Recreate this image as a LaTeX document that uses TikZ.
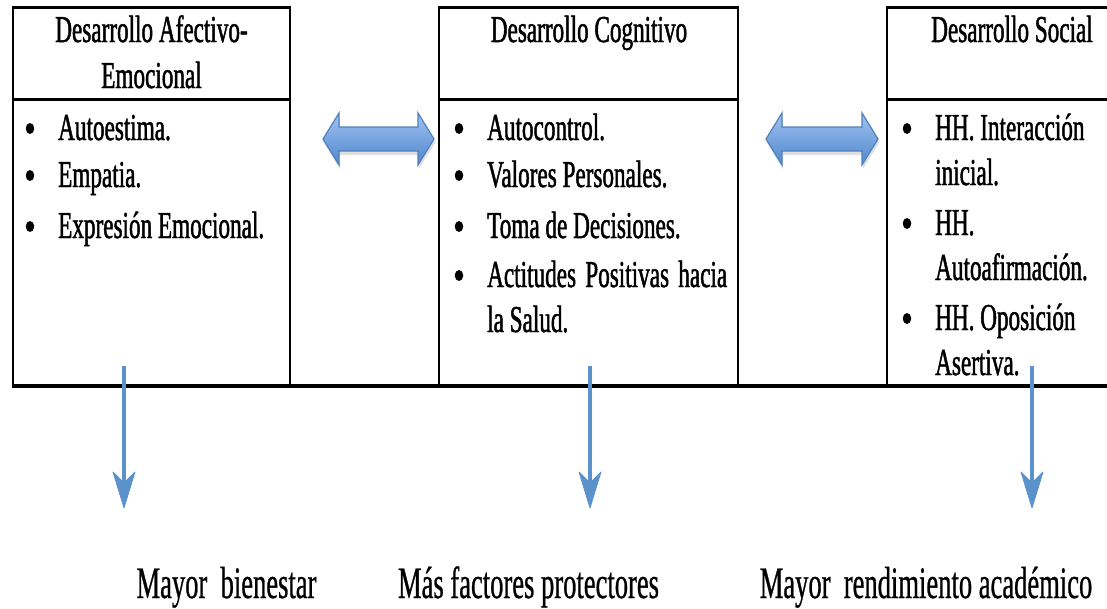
\documentclass[tikz,border=0pt]{standalone}
\usepackage{fontspec}
\setmainfont{Liberation Serif}
\newfontfamily\boxfnt[FakeStretch=0.61,FakeBold=1.2]{Liberation Serif}
\newfontfamily\botfnt[FakeStretch=0.59,FakeBold=0.6]{Liberation Serif}
\usetikzlibrary{shadows,shapes.geometric}
\definecolor{arrblue}{RGB}{91,146,204}
\definecolor{dblline}{RGB}{79,129,189}
\definecolor{dbltop}{RGB}{160,195,240}
\definecolor{dblbot}{RGB}{80,134,206}
\begin{document}
\begin{tikzpicture}[x=1pt,y=-1pt,
  hline/.style={line width=3pt, black},
  vline/.style={line width=1.8pt, black},
  bline/.style={line width=4pt, black},
  txt/.style={inner sep=0pt, font={\boxfnt\fontsize{38}{46}\selectfont}, anchor=base west},
  headtxt/.style={inner sep=0pt, font={\boxfnt\fontsize{38}{46}\selectfont}, anchor=base},
  bul/.style={ellipse, fill=black, inner sep=0pt, minimum width=8.5pt, minimum height=11pt},
  result/.style={inner sep=0pt, font={\botfnt\fontsize{45}{54}\selectfont}, anchor=base},
  downarr/.style={line width=3.5pt, draw=arrblue},
  arrhead/.style={fill=arrblue, draw=arrblue, line width=0.8pt, line join=round},
  dblarr/.style={draw=dblline, line width=1.2pt, top color=dbltop, bottom color=dblbot,
    drop shadow={opacity=0.25, shadow xshift=1pt, shadow yshift=-4pt}}
]
\useasboundingbox (0,0) rectangle (1107,608);

% frame lines
\draw[hline] (12,7) -- (291,7);
\draw[hline] (438,7) -- (739,7);
\draw[hline] (886,7) -- (1107,7);
\draw[hline] (12,99) -- (291,99);
\draw[hline] (438,99) -- (739,99);
\draw[hline] (886,99) -- (1107,99);
\foreach \xx in {13,290,439,738,887} {\draw[vline] (\xx,5.5) -- (\xx,387);}
\draw[bline] (12,386) -- (1107,386);

% headers
\node[headtxt] (h1a) at (151.5,42) {Desarrollo Afectivo-};
\node[headtxt] (h1b) at (151.5,88) {Emocional};
\node[headtxt] (h2) at (589,42) {Desarrollo Cognitivo};
\node[headtxt] (h3) at (1012,42) {Desarrollo Social};

% box 1
\node[bul] (b1a) at (30,128.5) {};
\node[bul] (b1b) at (30,175.5) {};
\node[bul] (b1c) at (30,226.5) {};
\node[txt] (t1a) at (58,140) {Autoestima.};
\node[txt] (t1b) at (58,187) {Empatia.};
\node[txt] (t1c) at (58,238) {Expresión Emocional.};

% box 2
\node[bul] (b2a) at (459,128.5) {};
\node[bul] (b2b) at (459,175.5) {};
\node[bul] (b2c) at (459,226.5) {};
\node[bul] (b2d) at (459,275.5) {};
\node[txt] (t2a) at (487,140) {Autocontrol.};
\node[txt] (t2b) at (487,187) {Valores Personales.};
\node[txt] (t2c) at (487,238) {Toma de Decisiones.};
\node[txt] (t2d) at (487,287) {\makebox[240pt][s]{Actitudes Positivas hacia}};
\node[txt] (t2e) at (487,332) {la Salud.};

% box 3
\node[bul] (b3a) at (907,128.5) {};
\node[bul] (b3b) at (907,223.5) {};
\node[bul] (b3c) at (907,318.5) {};
\node[txt] (t3a) at (935,140) {HH. Interacción};
\node[txt] (t3b) at (935,185) {inicial.};
\node[txt] (t3c) at (935,235) {HH.};
\node[txt] (t3d) at (935,280) {Autoafirmación.};
\node[txt] (t3e) at (935,330) {HH. Oposición};
\node[txt] (t3f) at (935,375) {Asertiva.};

% double arrows
\path[dblarr] (323,139) -- (339,113) -- (339,127) -- (418,127) -- (418,113) -- (434,139)
  -- (418,165) -- (418,151) -- (339,151) -- (339,165) -- cycle;
\path[dblarr] (766,139) -- (782,113) -- (782,127) -- (862,127) -- (862,113) -- (878,139)
  -- (862,165) -- (862,151) -- (782,151) -- (782,165) -- cycle;

% results
\node[result] (r1) at (226.5,598) {Mayor\ \ bienestar};
\node[result] (r2) at (528.5,598) {Más factores protectores};
\node[result] (r3) at (926,598) {Mayor\ \ rendimiento académico};

% down arrows
\foreach \i/\xx in {1/124,2/590,3/1032} {
  \coordinate (s\i) at (\xx,366);
  \coordinate (e\i) at (\xx,508);
  \draw[downarr] (s\i) -- ([yshift=24pt]e\i);
  \path[arrhead] (e\i) -- ++(-11,-36) -- ++(11,11) -- ++(11,-11) -- cycle;
}
\end{tikzpicture}
\end{document}
